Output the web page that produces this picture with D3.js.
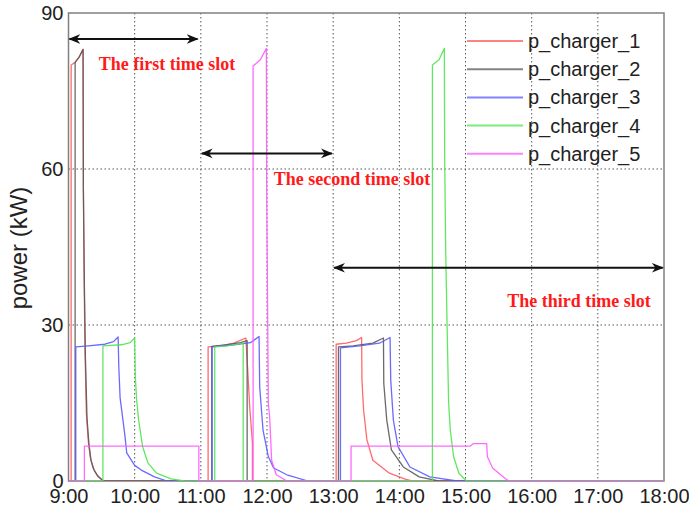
<!DOCTYPE html>
<html>
<head>
<meta charset="utf-8">
<script src="https://cdn.jsdelivr.net/npm/d3@7"></script>
<style>
  body { margin: 0; background: #fff; }
  svg { display: block; }
</style>
</head>
<body>
<svg id="chart" width="689" height="510"></svg>
<script>
// ---- data (time in decimal hours, power in kW) ----
const seriesNames = ["p_charger_1", "p_charger_2", "p_charger_3", "p_charger_4", "p_charger_5"];
const seriesColors = ["#ff5a5a", "#5a5a5a", "#5a5aff", "#4fe64f", "#ff5aff"];
const xTicks = [9, 10, 11, 12, 13, 14, 15, 16, 17, 18];
const yTicks = [0, 30, 60, 90];

const charger1 = [
  [9.00,0],[9.04,0],[9.04,80],[9.10,80.5],[9.16,81.5],[9.22,83],[9.225,56],[9.235,40],[9.25,25],
  [9.27,13],[9.30,7.5],[9.33,4.5],[9.37,2.5],[9.43,1.2],[9.52,0],
  [11.11,0],[11.11,25.8],[11.3,26.0],[11.5,26.5],[11.68,27.5],[11.71,21],[11.74,14],[11.78,7.3],[11.78,0],
  [13.045,0],[13.045,26.3],[13.2,26.5],[13.35,27],[13.43,27.6],[13.435,19.4],[13.46,13.6],[13.51,7.9],
  [13.6,4],[13.85,1.5],[14.1,0.3],[14.19,0],[18,0]
];
const charger2 = [
  [9.00,0],[9.10,0],[9.10,80.5],[9.16,81.5],[9.22,83],[9.225,56],[9.24,38],[9.255,24],[9.28,12],
  [9.31,7],[9.34,4],[9.39,2],[9.45,0.8],[9.53,0],
  [11.165,0],[11.165,25.9],[11.4,26.2],[11.6,26.6],[11.70,27],[11.70,0],
  [13.08,0],[13.08,25.8],[13.3,26],[13.6,26.5],[13.76,27.5],[13.765,18.8],[13.81,11.7],[13.88,6],
  [14.06,2.7],[14.3,0.8],[14.59,0],[18,0]
];
const charger3 = [
  [9.00,0],[9.11,0],[9.11,25.8],[9.3,26],[9.55,26.3],[9.68,26.8],[9.75,27.7],[9.76,22],[9.78,16],
  [9.85,9],[9.88,5.4],[10.0,3],[10.1,2.1],[10.3,0.8],[10.49,0],
  [11.17,0],[11.17,25.8],[11.5,26.2],[11.75,26.6],[11.88,27.8],[11.89,18],[11.94,9.8],[12.02,4.7],
  [12.1,2.5],[12.3,1.2],[12.62,0],
  [13.11,0],[13.11,25.6],[13.4,26],[13.7,26.5],[13.86,27.6],[13.87,19.4],[13.91,11.7],[13.98,6.6],
  [14.16,2.7],[14.46,0.8],[14.87,0],[18,0]
];
const charger4 = [
  [9.00,0],[9.52,0],[9.52,26],[9.8,26.2],[9.93,26.6],[10.0,27.5],[10.01,20],[10.03,15.6],[10.06,11.7],
  [10.12,6.6],[10.2,3.5],[10.33,1.5],[10.55,0.4],[10.75,0],
  [11.21,0],[11.21,25.8],[11.4,26],[11.64,26.5],[11.64,0],
  [14.5,0],[14.5,80],[14.6,81],[14.68,83.2],[14.685,62.4],[14.70,45],[14.72,31],[14.745,15],[14.77,9.8],
  [14.82,4.7],[14.9,1.5],[15.0,0.2],[15.01,0],[18,0]
];
const charger5 = [
  [9.00,0],[9.24,0],[9.24,6.7],[10.97,6.7],[10.97,0],
  [11.79,0],[11.79,79.8],[11.9,81],[11.99,83.2],[11.995,56.5],[12.02,15],[12.04,12.3],[12.07,4],
  [12.14,1.2],[12.3,0],
  [13.27,0],[13.27,6.7],[15.07,6.7],[15.12,7.2],[15.32,7.2],[15.33,4.7],[15.41,2.5],[15.53,1.2],[15.65,0],[18,0]
];
const allSeries = [charger1, charger2, charger3, charger4, charger5];

const annotations = [
  { label: "The first time slot",  from: 9,  to: 10.95, arrowY: 85,  textX: 167, textY: 79 },
  { label: "The second time slot", from: 11, to: 12.98, arrowY: 63,  textX: 352, textY: 57 },
  { label: "The third time slot",  from: 13, to: 17.98, arrowY: 41,  textX: 579, textY: 33.5 }
];

// ---- layout ----
const svg = d3.select("#chart");
const L = 68.5, R = 664, T = 13, B = 481;
const x = d3.scaleLinear().domain([9, 18]).range([L, R]);
const y = d3.scaleLinear().domain([0, 90]).range([B, T]);

const defs = svg.append("defs");
defs.append("clipPath").attr("id", "clip")
  .append("rect").attr("x", L).attr("y", T).attr("width", R - L).attr("height", B - T);
defs.append("marker").attr("id", "arrowhead")
  .attr("viewBox", "0 0 10 10").attr("refX", 9).attr("refY", 5)
  .attr("markerWidth", 6).attr("markerHeight", 6).attr("markerUnits", "strokeWidth")
  .attr("orient", "auto-start-reverse")
  .append("path").attr("d", "M0,1 L10,5 L0,9 L3,5 Z").attr("fill", "#111");

// grid
const grid = svg.append("g").attr("stroke", "#555").attr("stroke-width", 1).attr("stroke-dasharray", "1.5,2.5");
grid.selectAll("line.v").data(xTicks.slice(1, -1)).join("line")
  .attr("x1", d => x(d)).attr("x2", d => x(d)).attr("y1", T).attr("y2", B);
grid.selectAll("line.h").data(yTicks.slice(1, -1)).join("line")
  .attr("x1", L).attr("x2", R).attr("y1", d => y(d)).attr("y2", d => y(d));

// axes
const xAxis = svg.append("g").attr("transform", `translate(0,${B})`)
  .call(d3.axisBottom(x).tickValues(xTicks).tickFormat(d => d + ":00").tickSize(0).tickPadding(8));
const yAxis = svg.append("g").attr("transform", `translate(${L},0)`)
  .call(d3.axisLeft(y).tickValues(yTicks).tickSize(0).tickPadding(5));
[xAxis, yAxis].forEach(a => {
  a.select(".domain").remove();
  a.selectAll("text").attr("font-family", "Liberation Sans, Arial, sans-serif")
    .attr("font-size", 20).attr("fill", "#222");
});
yAxis.selectAll("text").attr("dy", "0.3em");

// frame
svg.append("rect").attr("x", L).attr("y", T).attr("width", R - L).attr("height", B - T)
  .attr("fill", "none").attr("stroke", "#808080").attr("stroke-width", 1.5);

// series
const line = d3.line().x(d => x(d[0])).y(d => y(d[1]));
svg.append("g").attr("clip-path", "url(#clip)")
  .selectAll("path").data(allSeries).join("path")
  .attr("d", d => line(d))
  .attr("fill", "none")
  .attr("stroke", (d, i) => seriesColors[i])
  .attr("stroke-width", 1.3)
  .attr("stroke-opacity", 0.9)
  .attr("stroke-linejoin", "round");

// annotations
const ann = svg.append("g");
annotations.forEach(a => {
  ann.append("line")
    .attr("x1", x(a.from) + 1).attr("x2", x(a.to))
    .attr("y1", y(a.arrowY)).attr("y2", y(a.arrowY))
    .attr("stroke", "#111").attr("stroke-width", 2)
    .attr("marker-start", "url(#arrowhead)").attr("marker-end", "url(#arrowhead)");
  ann.append("text").attr("x", a.textX).attr("y", y(a.textY))
    .attr("text-anchor", "middle")
    .attr("font-family", "Liberation Serif, Times New Roman, serif")
    .attr("font-weight", "bold").attr("font-size", 18).attr("fill", "#ff1a1a")
    .text(a.label);
});

// legend
const leg = svg.append("g");
seriesNames.forEach((n, i) => {
  const yy = 41 + i * 28.2;
  leg.append("line").attr("x1", 467).attr("x2", 523).attr("y1", yy).attr("y2", yy)
    .attr("stroke", seriesColors[i]).attr("stroke-width", 2).attr("stroke-opacity", 0.75);
  leg.append("text").attr("x", 528).attr("y", yy).attr("dy", "0.35em")
    .attr("font-family", "Liberation Sans, Arial, sans-serif").attr("font-size", 20)
    .attr("fill", "#222").text(n);
});

// y label
svg.append("text").attr("transform", "translate(19,248) rotate(-90)")
  .attr("text-anchor", "middle").attr("dy", "0.35em")
  .attr("font-family", "Liberation Sans, Arial, sans-serif").attr("font-size", 24)
  .attr("fill", "#222").text("power (kW)");
</script>
</body>
</html>
